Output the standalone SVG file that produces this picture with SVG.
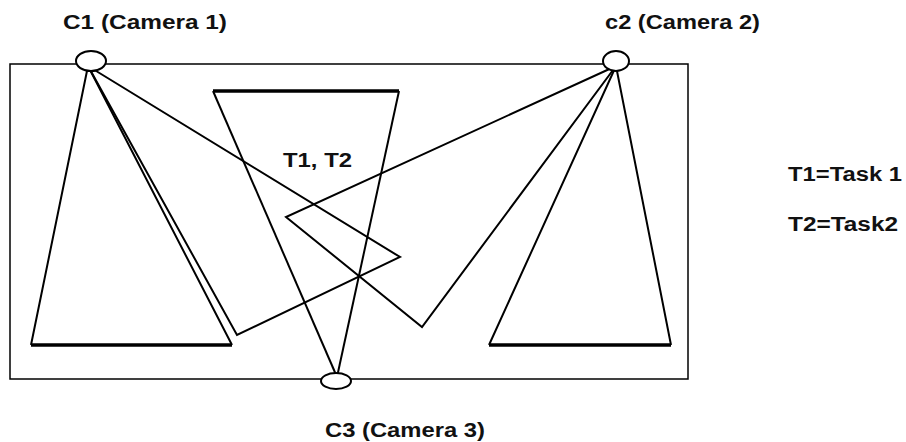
<svg xmlns="http://www.w3.org/2000/svg" width="906" height="442" viewBox="0 0 906 442">
<style>
.ln{fill:none;stroke:#000;stroke-width:2;stroke-linejoin:miter}
.thin{fill:none;stroke:#000;stroke-width:1.5}
.thick{fill:none;stroke:#000;stroke-width:3.5}
.cam{fill:#fff;stroke:#000;stroke-width:2}
.t{font-family:"Liberation Sans",Arial,sans-serif;font-weight:bold;font-size:20px;fill:#111}
</style>
<rect width="906" height="442" fill="#fff"/>
<g id="area"><rect class="thin" x="10" y="64" width="678" height="315"/></g>
<g id="connectors">
<polyline class="ln" points="31,345 88,66 232,345"/>
<line class="thick" x1="31" y1="345" x2="232" y2="345"/>
<polyline class="ln" points="88,66 237,335 400,257 88,66"/>
<polyline class="ln" points="337,377 213,91"/>
<polyline class="ln" points="337,377 399,91"/>
<line class="thick" x1="213" y1="91" x2="399" y2="91"/>
<polyline class="ln" points="616,66 286,217 422,327 616,66"/>
<polyline class="ln" points="489,345 616,66 671,345"/>
<line class="thick" x1="489" y1="345" x2="671" y2="345"/>
</g>
<g id="C1"><ellipse class="cam" cx="91" cy="61" rx="15" ry="10"/><text class="t" x="63" y="29" textLength="164" lengthAdjust="spacingAndGlyphs">C1 (Camera 1)</text></g>
<g id="C2"><ellipse class="cam" cx="616" cy="61" rx="13" ry="10"/><text class="t" x="605" y="29" textLength="155" lengthAdjust="spacingAndGlyphs">c2 (Camera 2)</text></g>
<g id="C3"><ellipse class="cam" cx="336" cy="381" rx="15" ry="8"/><text class="t" x="325" y="437" textLength="160" lengthAdjust="spacingAndGlyphs">C3 (Camera 3)</text></g>
<g id="T"><text class="t" x="283" y="167" textLength="69" lengthAdjust="spacingAndGlyphs">T1, T2</text></g>
<g id="legend"><text class="t" x="788" y="181" textLength="114" lengthAdjust="spacingAndGlyphs">T1=Task 1</text><text class="t" x="788" y="231" textLength="110" lengthAdjust="spacingAndGlyphs">T2=Task2</text></g>
</svg>
